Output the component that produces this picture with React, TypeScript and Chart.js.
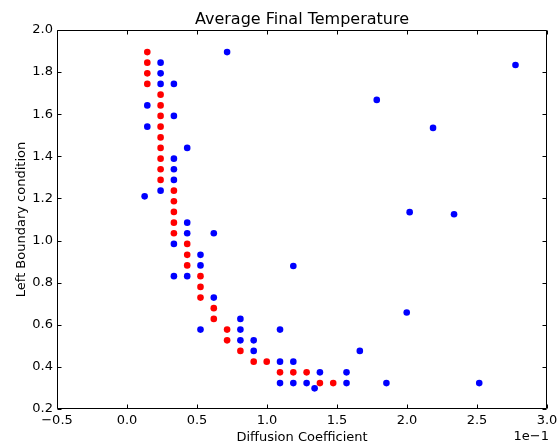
import React, { useEffect, useRef } from "react";
import { Chart, registerables } from "chart.js";

Chart.register(...registerables);

const chartTitle = "Average Final Temperature";
const xTitle = "Diffusion Coefficient";
const yTitle = "Left Boundary condition";
const xOffsetLabel = "1e\u22121";

const xMin = -0.5;
const xMax = 3.0;
const xStep = 0.5;
const yMin = 0.2;
const yMax = 2.0;
const yStep = 0.2;

const redX = [
  0.145, 0.145, 0.145, 0.145,
  0.24, 0.24, 0.24, 0.24, 0.24, 0.24, 0.24, 0.24, 0.24,
  0.335, 0.335, 0.335, 0.335, 0.335,
  0.43, 0.43, 0.43,
  0.525, 0.525, 0.525,
  0.62, 0.62,
  0.715, 0.715,
  0.81,
  0.905, 0.998,
  1.093, 1.188, 1.283,
  1.378, 1.473,
];
const redY = [
  1.895, 1.845, 1.794, 1.744,
  1.693, 1.642, 1.592, 1.541, 1.49, 1.44, 1.389, 1.339, 1.288,
  1.237, 1.187, 1.136, 1.085, 1.035,
  0.984, 0.932, 0.882,
  0.831, 0.78, 0.729,
  0.679, 0.628,
  0.577, 0.526,
  0.476,
  0.425, 0.425,
  0.374, 0.374, 0.374,
  0.323, 0.323,
];

const blueX = [
  0.24, 0.24, 0.24, 0.335,
  0.145, 0.335, 0.145, 0.43,
  0.335, 0.335, 0.335, 0.24, 0.126,
  0.43, 0.43, 0.62, 0.335,
  0.525, 0.525, 0.335, 0.43,
  0.62, 0.81, 0.525, 0.81, 1.093,
  0.81, 0.905, 0.905, 1.663,
  1.093, 1.188,
  1.378, 1.568,
  1.093, 1.188, 1.283, 1.568, 1.853, 2.516,
  1.34,
  0.715, 1.188,
  1.998, 1.784, 2.775, 2.186, 2.019, 2.336,
];
const blueY = [
  1.845, 1.794, 1.744, 1.744,
  1.642, 1.592, 1.541, 1.44,
  1.389, 1.339, 1.288, 1.237, 1.21,
  1.085, 1.035, 1.035, 0.984,
  0.932, 0.882, 0.831, 0.831,
  0.729, 0.628, 0.577, 0.577, 0.577,
  0.526, 0.526, 0.476, 0.476,
  0.425, 0.425,
  0.374, 0.374,
  0.323, 0.323, 0.323, 0.323, 0.323, 0.323,
  0.298,
  1.895, 0.879,
  0.658, 1.668, 1.834, 1.535, 1.135, 1.125,
];

const FONT = "DejaVu Sans";

const framePlugin = {
  id: "mplFrame",
  afterDraw(chart: any) {
    const { ctx, chartArea } = chart;
    const { left, right, top, bottom } = chartArea;
    const xs = chart.scales.x;
    const ys = chart.scales.y;
    ctx.save();
    ctx.strokeStyle = "#000";
    ctx.lineWidth = 1;
    const L = Math.round(left) + 0.5;
    const R = Math.round(right) - 0.5;
    const T = Math.round(top) + 0.5;
    const B = Math.round(bottom) - 0.5;
    ctx.beginPath();
    ctx.rect(L, T, R - L, B - T);
    ctx.stroke();
    const tl = 4;
    ctx.beginPath();
    xs.ticks.forEach((t: any) => {
      const px = Math.round(xs.getPixelForValue(t.value)) + 0.5;
      ctx.moveTo(px, B);
      ctx.lineTo(px, B - tl);
      ctx.moveTo(px, T);
      ctx.lineTo(px, T + tl);
    });
    ys.ticks.forEach((t: any) => {
      const py = Math.round(ys.getPixelForValue(t.value)) + 0.5;
      ctx.moveTo(L, py);
      ctx.lineTo(L + tl, py);
      ctx.moveTo(R, py);
      ctx.lineTo(R - tl, py);
    });
    ctx.stroke();
    ctx.fillStyle = "#000";
    ctx.font = `13px "${FONT}"`;
    ctx.textAlign = "right";
    ctx.textBaseline = "middle";
    ctx.fillText(xOffsetLabel, right + 2, 437);
    ctx.restore();
  },
};

const fmt = (v: number) => {
  const s = Number(v).toFixed(1);
  return s.replace("-", "\u2212");
};

export default function App() {
  const ref = useRef<HTMLCanvasElement | null>(null);
  useEffect(() => {
    document.body.style.margin = "0";
    const canvas = ref.current;
    if (!canvas) return;
    const toPts = (xs: number[], ys: number[]) => xs.map((x, i) => ({ x, y: ys[i] }));
    const chart = new Chart(canvas, {
      type: "scatter",
      data: {
        datasets: [
          {
            label: "blue",
            data: toPts(blueX, blueY),
            backgroundColor: "#0000ff",
            borderWidth: 0,
            pointRadius: 3.3,
          },
          {
            label: "red",
            data: toPts(redX, redY),
            backgroundColor: "#ff0000",
            borderWidth: 0,
            pointRadius: 3.3,
          },
        ],
      },
      options: {
        responsive: false,
        animation: false,
        devicePixelRatio: 1,
        layout: { padding: { left: 0, right: 11, top: 0, bottom: 0 } },
        plugins: {
          legend: { display: false },
          tooltip: { enabled: false },
          title: {
            display: true,
            fullSize: false,
            text: chartTitle,
            color: "#000",
            font: { family: FONT, size: 16, weight: "normal", lineHeight: 1.125 },
            padding: { top: 11, bottom: 1 },
          },
        },
        scales: {
          x: {
            type: "linear",
            min: xMin,
            max: xMax,
            grid: { display: false, drawTicks: false },
            border: { display: false },
            ticks: {
              stepSize: xStep,
              color: "#000",
              padding: 4,
              font: { family: FONT, size: 13 },
              callback: (v: any) => fmt(v),
              maxRotation: 0,
            },
            title: {
              display: true,
              text: xTitle,
              color: "#000",
              font: { family: FONT, size: 13 },
              padding: { top: 0, bottom: 1 },
            },
            afterFit: (s: any) => {
              s.height = 37;
              s.paddingLeft = 0;
              s.paddingRight = 0;
            },
          },
          y: {
            type: "linear",
            min: yMin,
            max: yMax,
            grid: { display: false, drawTicks: false },
            border: { display: false },
            ticks: {
              stepSize: yStep,
              color: "#000",
              padding: 4,
              font: { family: FONT, size: 13 },
              callback: (v: any) => fmt(v),
            },
            title: {
              display: true,
              text: yTitle,
              color: "#000",
              font: { family: FONT, size: 13 },
              padding: { top: 14, bottom: 0 },
            },
            afterFit: (s: any) => {
              s.width = 57;
              s.paddingTop = 0;
              s.paddingBottom = 0;
            },
          },
        },
      },
      plugins: [framePlugin],
    });
    return () => chart.destroy();
  }, []);
  return <canvas ref={ref} width={558} height={446} style={{ display: "block" }} />;
}
